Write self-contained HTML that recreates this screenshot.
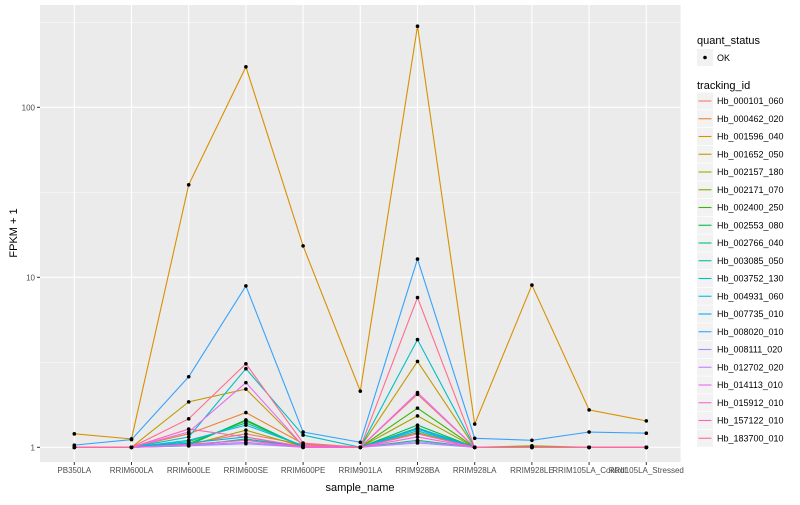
<!DOCTYPE html>
<html><head><meta charset="utf-8"><style>
body{margin:0;background:#fff;font-family:"Liberation Sans",sans-serif}
svg text{font-family:"Liberation Sans",sans-serif}
</style></head><body>
<svg id="chart" width="800" height="500" xmlns="http://www.w3.org/2000/svg">
<rect x="40" y="5" width="640.6" height="457" fill="#EBEBEB"/>
<g id="grid"></g><g id="lines"></g><g id="pts"></g><g id="axes"></g><g id="legend"></g>
</svg>
<script>
const categories=["PB350LA","RRIM600LA","RRIM600LE","RRIM600SE","RRIM600PE","RRIM901LA","RRIM928BA","RRIM928LA","RRIM928LE","RRIM105LA_Control","RRII105LA_Stressed"];
const seriesNames=["Hb_000101_060","Hb_000462_020","Hb_001596_040","Hb_001652_050","Hb_002157_180","Hb_002171_070","Hb_002400_250","Hb_002553_080","Hb_002766_040","Hb_003085_050","Hb_003752_130","Hb_004931_060","Hb_007735_010","Hb_008020_010","Hb_008111_020","Hb_012702_020","Hb_014113_010","Hb_015912_010","Hb_157122_010","Hb_183700_010"];
const s000101=[1,1,1.05,1.2,1.04,1,2.05,1,1,1,1];
const s000462=[1,1,1.2,1.6,1.05,1,1.3,1,1,1,1];
const s001596=[1.2,1.12,35,173,15.3,2.14,300,1.37,9,1.66,1.43];
const s001652=[1,1,1.85,2.2,1.02,1,3.2,1,1,1,1];
const s002157=[1,1,1.03,1.26,1.01,1,1.53,1,1,1,1];
const s002171=[1,1,1.04,1.1,1,1,1.22,1,1.02,1,1];
const s002400=[1,1,1.05,1.43,1.01,1,1.7,1,1,1,1];
const s002553=[1,1,1.03,1.45,1,1,1.35,1,1,1,1];
const s002766=[1,1,1.02,1.12,1,1,1.1,1,1,1,1];
const s003085=[1,1,1.08,1.39,1.02,1,1.3,1,1,1,1];
const s003752=[1,1,1.15,2.9,1.18,1,4.3,1,1,1,1];
const s004931=[1,1,1.1,1.35,1.02,1,1.25,1,1,1,1];
const s007735=[1,1,1.06,1.15,1,1,1.28,1,1,1,1];
const s008020=[1.03,1.11,2.6,8.9,1.23,1.07,12.8,1.13,1.1,1.23,1.21];
const s008111=[1,1,1.02,1.05,1,1,1.06,1,1,1,1];
const s012702=[1,1,1.03,1.07,1,1,1.08,1,1,1,1];
const s014113=[1,1,1.23,2.4,1.02,1,2.1,1,1,1,1];
const s015912=[1,1,1.04,1.1,1,1,1.15,1,1,1,1];
const s157122=[1,1,1.28,1.15,1.01,1,1.2,1,1,1,1];
const s183700=[1,1,1.47,3.1,1.06,1,7.6,1,1,1,1];
const yTicks=[1,10,100];
const yTickLabels=["1","10","100"];
const allSeries=[s000101,s000462,s001596,s001652,s002157,s002171,s002400,s002553,s002766,s003085,s003752,s004931,s007735,s008020,s008111,s012702,s014113,s015912,s157122,s183700];
const colors=["#F8766D","#EA8331","#D89000","#C09B00","#A3A500","#7CAE00","#39B600","#00BB4E","#00BF7D","#00C1A3","#00BFC4","#00BAE0","#00B0F6","#35A2FF","#9590FF","#C77CFF","#E76BF3","#FA62DB","#FF62BC","#FF6C91"];
const NS="http://www.w3.org/2000/svg";
function mk(t,a,p){const e=document.createElementNS(NS,t);for(const k in a)e.setAttribute(k,a[k]);p.appendChild(e);return e;}
const X0=74.3,DX=57.2,Y1=447.3,DEC=170,L=40,R=680.6,T=5,B=462;
function xs(i){return X0+i*DX;}
function ys(v){return Y1-Math.log10(v)*DEC;}
const grid=document.getElementById('grid');
for(const m of [Math.sqrt(10),Math.sqrt(10)*10,Math.sqrt(10)*100]){const y=ys(m);if(y>T){const g=mk('line',{x1:L,x2:R,y1:y,y2:y,stroke:'#fff','stroke-width':0.5},grid);}}
yTicks.forEach((v,i)=>{const y=ys(v);const g=mk('line',{x1:L,x2:R,y1:y,y2:y,stroke:'#fff','stroke-width':1.1},grid);
const ax=document.getElementById('axes');const tk=mk('line',{x1:37,x2:40,y1:y,y2:y,stroke:'#333','stroke-width':1},ax);
const t=mk('text',{x:35,y:y+3,'text-anchor':'end','font-size':8,fill:'#4D4D4D'},ax);t.textContent=yTickLabels[i];});
categories.forEach((c,i)=>{const x=xs(i);const g=mk('line',{x1:x,x2:x,y1:T,y2:B,stroke:'#fff','stroke-width':1.1},grid);
const ax=document.getElementById('axes');const tk=mk('line',{x1:x,x2:x,y1:B,y2:B+3,stroke:'#333','stroke-width':1},ax);
const t=mk('text',{x:x,y:B+11,'text-anchor':'middle','font-size':8,fill:'#4D4D4D'},ax);t.textContent=c;});
const ax=document.getElementById('axes');
let t=mk('text',{x:360,y:491,'text-anchor':'middle','font-size':11,fill:'#000'},ax);t.textContent='sample_name';
t=mk('text',{x:0,y:0,'text-anchor':'middle','font-size':11,fill:'#000',transform:'translate(17,233) rotate(-90)'},ax);t.textContent='FPKM + 1';
const lg=document.getElementById('lines'),pg=document.getElementById('pts');
allSeries.forEach((s,k)=>{const pl=mk('polyline',{points:s.map((v,i)=>xs(i)+','+ys(v)).join(' '),fill:'none',stroke:colors[k],'stroke-width':1.1},lg);});
allSeries.forEach((s,k)=>{s.forEach((v,i)=>{const c=mk('circle',{cx:xs(i),cy:ys(v),r:1.8,fill:'#000'},pg);});});
const leg=document.getElementById('legend');
t=mk('text',{x:697,y:44,'font-size':11,fill:'#000'},leg);t.textContent='quant_status';
let r=mk('rect',{x:697,y:49,width:16,height:17,fill:'#F2F2F2'},leg);
r=mk('circle',{cx:705,cy:57.5,r:1.8,fill:'#000'},leg);
t=mk('text',{x:717,y:61,'font-size':9,fill:'#000'},leg);t.textContent='OK';
t=mk('text',{x:697,y:89,'font-size':11,fill:'#000'},leg);t.textContent='tracking_id';
seriesNames.forEach((n,k)=>{const y=101+k*17.75;
const b=mk('rect',{x:697,y:y-8.5,width:16,height:17,fill:'#F2F2F2'},leg);
const l=mk('line',{x1:698.5,x2:711.5,y1:y,y2:y,stroke:colors[k],'stroke-width':1.1},leg);
const tx=mk('text',{x:717,y:y+3,'font-size':9,fill:'#000'},leg);tx.textContent=n;});
</script>
</body></html>
